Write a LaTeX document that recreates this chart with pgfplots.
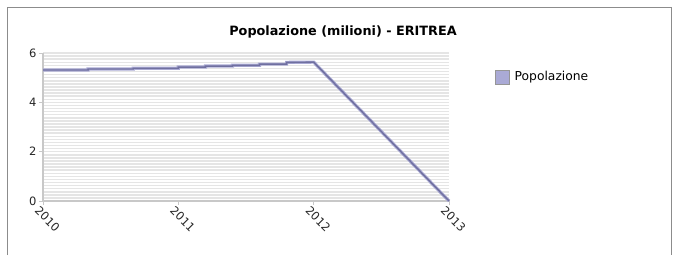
\documentclass[border=0pt]{standalone}
\usepackage{fontspec}
\setmainfont{DejaVu Sans}
\usepackage{pgfplots}
\pgfplotsset{compat=1.18}
\definecolor{gridc}{RGB}{229,229,229}
\definecolor{axisc}{RGB}{200,200,200}
\definecolor{framec}{RGB}{140,140,140}
\definecolor{linelight}{RGB}{170,170,212}
\definecolor{linedark}{RGB}{112,112,160}
\definecolor{legc}{RGB}{170,170,214}
\definecolor{legb}{RGB}{150,150,150}
\begin{document}
\begin{tikzpicture}[x=1bp,y=1bp]
\useasboundingbox (0,0) rectangle (679,255);
\draw[color=framec, line width=1bp] (7.5,0) -- (7.5,247.5) -- (671.5,247.5) -- (671.5,0);
\node[font=\bfseries\fontsize{12.8bp}{15bp}\selectfont] at (343,223) {Popolazione (milioni) - ERITREA};
\begin{axis}[
  at={(43bp,54bp)}, anchor=south west,
  scale only axis, width=406bp, height=148bp,
  xmin=2010, xmax=2013, ymin=0, ymax=6,
  xtick={2010,2011,2012,2013},
  ytick={0,2,4,6},
  minor y tick num=15,
  ymajorgrids, yminorgrids,
  grid style={gridc, line width=1.5bp},
  minor grid style={gridc, line width=1.5bp},
  axis lines*=left,
  axis line style={axisc, line width=1.5bp},
  major tick style={axisc, line width=0.8bp},
  major tick length=4bp, minor tick length=0bp,
  tick pos=left,
  tick align=outside,
  clip=false,
  /pgf/number format/assume math mode=true,
  /pgf/number format/1000 sep={},
  tick label style={font=\fontsize{11.5bp}{13bp}\selectfont, text=black!85},
  yticklabel style={xshift=1bp},
  xticklabel style={rotate=-45, anchor=north west, xshift=-5bp, yshift=1bp},
  legend style={at={(axis description cs:1.113,0.838)}, anchor=west, draw=none, fill=none,
    font=\fontsize{12.3bp}{14bp}\selectfont, inner sep=0pt,
    nodes={inner sep=1bp}},
  legend image code/.code={\draw[fill=legc, draw=legb, line width=0.6bp] (0bp,-7bp) rectangle (14bp,7bp);},
]
\addplot[linelight, line width=3.2bp, forget plot] coordinates {
(2010,5.31) (2010.333,5.31) (2010.333,5.35) (2010.667,5.35) (2010.667,5.38) (2011,5.38)
(2011,5.43) (2011.2,5.43) (2011.2,5.47) (2011.4,5.47) (2011.4,5.50) (2011.6,5.50)
(2011.6,5.55) (2011.8,5.55) (2011.8,5.62) (2012,5.63) (2013,0)
};
\addplot[linedark, line width=1.4bp] coordinates {
(2010,5.31) (2010.333,5.31) (2010.333,5.35) (2010.667,5.35) (2010.667,5.38) (2011,5.38)
(2011,5.43) (2011.2,5.43) (2011.2,5.47) (2011.4,5.47) (2011.4,5.50) (2011.6,5.50)
(2011.6,5.55) (2011.8,5.55) (2011.8,5.62) (2012,5.63) (2013,0)
};
\addlegendentry{\hspace{4bp}Popolazione}
\end{axis}
\end{tikzpicture}
\end{document}
